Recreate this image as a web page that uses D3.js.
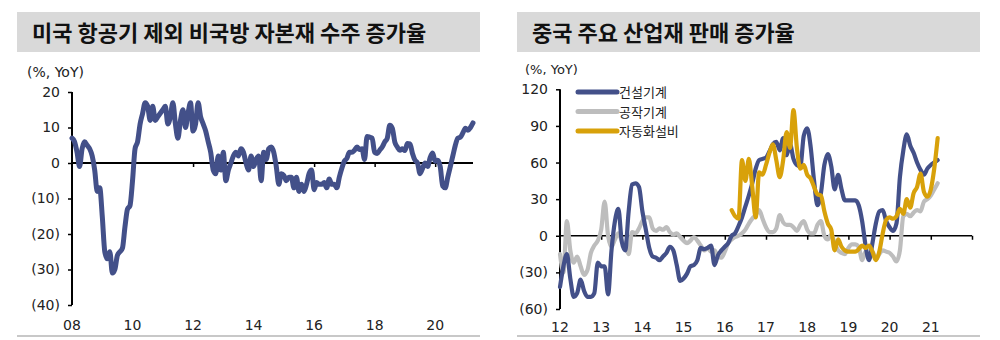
<!DOCTYPE html>
<html><head><meta charset="utf-8">
<script src="https://cdn.jsdelivr.net/npm/d3@7"></script>
<style>
html,body{margin:0;padding:0;background:#fff;}
svg{display:block;}
</style></head>
<body>
<svg id="c" width="1000" height="340"></svg>
<script>
// ---------- DATA ----------
const leftTitle = "미국 항공기 제외 비국방 자본재 수주 증가율";
const rightTitle = "중국 주요 산업재 판매 증가율";
const unitLabel = "(%, YoY)";

// US non-defense capital goods orders ex aircraft, YoY %, monthly from Jan 2008
const usStartYear = 2008;
const usOrders = [
 7,6,3,-1,4,6,5,4,2,-2,-8,-7,
 -15,-25,-27,-25,-31,-30,-26,-25,-24,-18,-13,-12,
 -5,4,6,11,14,17,16,12,16,12,13,14,
 15,16,11,13,17,11,7,12,15,10,14,17,
 9,11,17,13,11,9,6,3,-2,-3,2,-2,
 3,-5,-2,0,2,3,2,4,3,0,-2,2,
 -1,1,2,-5,3,1,4,4.5,3,-1,-6,-3,
 -3.5,-5,-4,-4,-7,-4,-8,-6,-8,-6,-3,-2,
 -7.5,-5.5,-6,-6,-5.5,-7,-4.5,-6,-6,-7,-4,-1.5,
 0.5,1.3,3,3,3.6,4.5,3.8,4,1,7.5,7.3,7,
 3,2.7,3.6,4.5,5.9,7,10.6,9.8,5.9,4.5,3.6,4,
 3.5,5.5,5.4,2.7,0.8,0,-3,-1.5,0,-1,1.5,2.8,
 0.5,0.8,-1,-6.5,-7,-4,-1,2,5,7,7.3,8.5,
 9.8,9.2,10,11.3
];
const leftYTicks = [20,10,0,-10,-20,-30,-40];
const leftXTicks = [2008,2010,2012,2014,2016,2018,2020];
const leftXLabels = ["08","10","12","14","16","18","20"];

// China industrial goods sales, YoY %, monthly from Jan 2012
const cnStartYear = 2012;
const seriesNames = ["건설기계","공작기계","자동화설비"];
const construction = [
 -42,-25,-15,-35,-50,-47,-36,-45,-50,-50,-47,-22,
 -25,-25,-48,-12,12,22,-5,-12,20,42,43,40,
 20,5,-10,-17,-18,-20,-17,-14,-9,-12,-24,-37,
 -35,-31,-25,-24,-20,-10,-11,-10,-8,-24,-16,-12,
 -9,-6,0,2,8,15,24,33,43,55,62,63,
 64,69,75,77,70,80,66,75,63,58,57,82,
 88,73,45,25,35,58,67,57,38,50,38,29,
 29,29,29,25,12,-8,-20,-6,10,20,21,12,
 7,4,10,48,70,83,74,68,60,54,50,55,
 58,60,62
];
const machineTools = [
 -15,-30,12,-12,-22,-17,-25,-32,-28,-14,-8,-4,
 5,28,0,-9,-3,2,-4,-8,-15,3,2,6,
 12,15,15,6,4,6,5,7,3,1,2,-1,
 -4,-6,-4,-1,-4,-8,-12,-10,-13,-12,-17,-18,
 -13,-6,-3,-1,0,2,5,10,14,17,21,14,
 7,3,3,6,17,11,9,9,7,4,9,12,
 5,2,2,9,12,0,-3,1,-6,-12,-14,-15,
 -10,-7,-7,-9,-20,-13,-17,-13,-19,-15,-12,-13,
 -14,-17,-21,-12,16,18,16,19,21,20,28,30,
 33,38,43
];
const automationStartIndex = 50; // May 2016
const automation = [
 21,16,14,62,45,63,40,15,52,50,
 58,68,75,62,48,62,85,72,103,72,55,58,
 50,47,40,34,33,20,10,5,-12,-3,-9,-12,
 -13,-13,-13,-11,-8,-10,-8,-13,-20,-13,2,13,
 15,14,16,22,18,30,23,35,40,51,36,32,
 38,55,80
];
const rightYTicks = [120,90,60,30,0,-30,-60];
const rightYLabels = ["120","90","60","30","0","(30)","(60)"];
const rightXTicks = [2012,2013,2014,2015,2016,2017,2018,2019,2020,2021];
const rightXLabels = ["12","13","14","15","16","17","18","19","20","21"];

const colors = {navy:"#435089", gray:"#bdbdbd", gold:"#d8a10a"};

// ---------- DRAW ----------
const svg = d3.select("#c");
const numFont = "'DejaVu Sans', Verdana, sans-serif";
const krFont = "'Noto Sans CJK KR', 'Noto Sans', sans-serif";
const fmtNeg = v => v < 0 ? "(" + Math.abs(v) + ")" : String(v);

function panelFrame(x0, x1, title) {
  svg.append("rect").attr("x", x0).attr("y", 12).attr("width", x1 - x0).attr("height", 40).attr("fill", "#d9d9d9");
  svg.append("text").attr("x", x0 + 15).attr("y", 41).attr("font-family", krFont).attr("font-weight", "bold")
    .attr("font-size", 22).attr("fill", "#111").text(title);
  svg.append("line").attr("x1", x0).attr("x2", x1).attr("y1", 336).attr("y2", 336)
    .attr("stroke", "#c8c8c8").attr("stroke-width", 2);
}

// Left panel
panelFrame(17, 480, leftTitle);
const xL = d3.scaleLinear().domain([2008, 2021.25]).range([72, 473]);
const yL = d3.scaleLinear().domain([-40, 20]).range([305, 92]);
svg.append("text").attr("x", 27).attr("y", 77).attr("font-family", numFont).attr("font-size", 14).attr("fill", "#222").text(unitLabel);

const gLy = svg.append("g").attr("transform", "translate(72,0)")
  .call(d3.axisLeft(yL).tickValues(leftYTicks).tickFormat(fmtNeg).tickSize(4).tickPadding(8));
gLy.select(".domain").attr("stroke", "#000").attr("stroke-width", 2).attr("d", `M0,${yL(20)}V${yL(-40)}`);
gLy.selectAll(".tick line").attr("stroke", "#000").attr("stroke-width", 1.5);
gLy.selectAll("text").attr("font-family", numFont).attr("font-size", 14).attr("fill", "#222");

// zero line + ticks
const gLx = svg.append("g").attr("transform", `translate(0,${yL(0)})`)
  .call(d3.axisBottom(xL).tickValues(leftXTicks.slice(1)).tickSize(4).tickFormat(""));
gLx.select(".domain").attr("stroke", "#000").attr("stroke-width", 2).attr("d", `M${xL(2008)},0H${xL(2021.25)}`);
gLx.selectAll(".tick line").attr("stroke", "#000").attr("stroke-width", 1.5);
svg.append("g").selectAll("text").data(leftXTicks).join("text")
  .attr("x", (d) => xL(d)).attr("y", 330).attr("text-anchor", "middle")
  .attr("font-family", numFont).attr("font-size", 14).attr("fill", "#222")
  .text((d, i) => leftXLabels[i]);

const lineL = d3.line().x((d, i) => xL(usStartYear + i / 12)).y(d => yL(d)).curve(d3.curveMonotoneX);
svg.append("path").datum(usOrders).attr("d", lineL).attr("fill", "none")
  .attr("stroke", colors.navy).attr("stroke-width", 5).attr("stroke-linejoin", "round").attr("stroke-linecap", "round");

// Right panel
panelFrame(517, 980, rightTitle);
const xR = d3.scaleLinear().domain([2012, 2022]).range([560, 972]);
const yR = d3.scaleLinear().domain([-60, 120]).range([309, 89.3]);
svg.append("text").attr("x", 525).attr("y", 74).attr("font-family", numFont).attr("font-size", 13).attr("fill", "#222").text(unitLabel);

const gRy = svg.append("g").attr("transform", "translate(560,0)")
  .call(d3.axisLeft(yR).tickValues(rightYTicks).tickFormat((d, i) => rightYLabels[i]).tickSize(4).tickPadding(8));
gRy.select(".domain").attr("stroke", "#000").attr("stroke-width", 2).attr("d", `M0,${yR(120)}V${yR(-60)}`);
gRy.selectAll(".tick line").attr("stroke", "#000").attr("stroke-width", 1.5);
gRy.selectAll("text").attr("font-family", numFont).attr("font-size", 14).attr("fill", "#222");

const gRx = svg.append("g").attr("transform", `translate(0,${yR(0)})`)
  .call(d3.axisBottom(xR).tickValues(d3.range(2013, 2023)).tickSize(4).tickFormat(""));
gRx.select(".domain").attr("stroke", "#000").attr("stroke-width", 1.5).attr("d", `M${xR(2012)},0H${xR(2022)}`);
gRx.selectAll(".tick line").attr("stroke", "#000").attr("stroke-width", 1.5);
svg.append("g").selectAll("text").data(rightXTicks).join("text")
  .attr("x", (d) => xR(d)).attr("y", 332).attr("text-anchor", "middle")
  .attr("font-family", numFont).attr("font-size", 14).attr("fill", "#222")
  .text((d, i) => rightXLabels[i]);

const lineR = (start) => d3.line().x((d, i) => xR(cnStartYear + (start + i) / 12)).y(d => yR(d)).curve(d3.curveMonotoneX);
const rSeries = [
  {name: seriesNames[1], data: machineTools, start: 0, color: colors.gray},
  {name: seriesNames[0], data: construction, start: 0, color: colors.navy},
  {name: seriesNames[2], data: automation, start: automationStartIndex, color: colors.gold}
];
rSeries.forEach(s => {
  svg.append("path").datum(s.data).attr("d", lineR(s.start)).attr("fill", "none")
    .attr("stroke", s.color).attr("stroke-width", 4.2).attr("stroke-linejoin", "round").attr("stroke-linecap", "round");
});

// legend
const legendColors = [colors.navy, colors.gray, colors.gold];
const lg = svg.append("g");
seriesNames.forEach((n, i) => {
  const y = 92 + i * 19.5;
  lg.append("line").attr("x1", 578).attr("x2", 617).attr("y1", y).attr("y2", y)
    .attr("stroke", legendColors[i]).attr("stroke-width", 5).attr("stroke-linecap", "round");
  lg.append("text").attr("x", 619).attr("y", y + 5).attr("font-family", krFont).attr("font-size", 13)
    .attr("fill", "#222").text(n);
});
</script>
</body></html>
